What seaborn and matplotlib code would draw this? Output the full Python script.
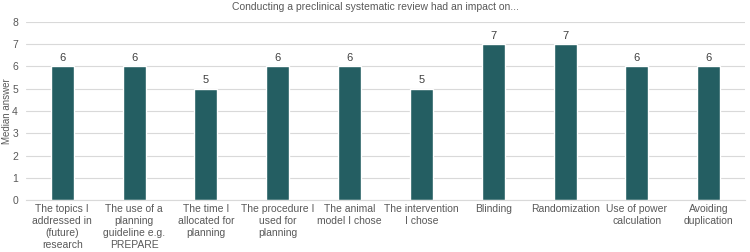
import matplotlib
matplotlib.use("Agg")
import matplotlib.pyplot as plt
import seaborn as sns
import pandas as pd

# Data
categories = [
    "The topics I\naddressed in\n(future)\nresearch",
    "The use of a\nplanning\nguideline e.g.\nPREPARE",
    "The time I\nallocated for\nplanning",
    "The procedure I\nused for\nplanning",
    "The animal\nmodel I chose",
    "The intervention\nI chose",
    "Blinding",
    "Randomization",
    "Use of power\ncalculation",
    "Avoiding\nduplication",
]
medians = [6, 6, 5, 6, 6, 5, 7, 7, 6, 6]

df = pd.DataFrame({"item": categories, "median": medians})

sns.set_style("white")
plt.rcParams["font.family"] = ["Liberation Sans", "DejaVu Sans"]

fig = plt.figure(figsize=(7.5, 2.52), dpi=100)
ax = fig.add_axes([0.035, 0.206, 0.958, 0.707])

sns.barplot(data=df, x="item", y="median", color="#245e62", width=0.32,
            saturation=1, ax=ax)

for i, v in enumerate(medians):
    ax.text(i, v + 0.15, str(v), ha="center", va="bottom", fontsize=8, color="#404040")

ax.set_ylim(0, 8)
ax.set_yticks(range(0, 9))
ax.set_xlim(-0.5, len(categories) - 0.5)
ax.yaxis.grid(True, color="#d9d9d9", linewidth=0.8)
ax.set_axisbelow(True)
for s in ["left", "right", "top"]:
    ax.spines[s].set_visible(False)
ax.spines["bottom"].set_color("#d9d9d9")
ax.tick_params(axis="both", length=0, labelsize=7.5, colors="#595959")
ax.tick_params(axis="y", pad=6)
ax.tick_params(axis="x", pad=3)
ax.set_xlabel("")
ax.set_ylabel("")
for lab in ax.get_xticklabels():
    lab.set_linespacing(1.25)

fig.text(0.003, 0.56, "Median answer", rotation=90, ha="left", va="center",
         fontsize=7, color="#595959")
fig.text(0.5, 0.972, "Conducting a preclinical systematic review had an impact on...",
         ha="center", va="center", fontsize=7.5, color="#595959")

fig.savefig("out.png", dpi=100)
